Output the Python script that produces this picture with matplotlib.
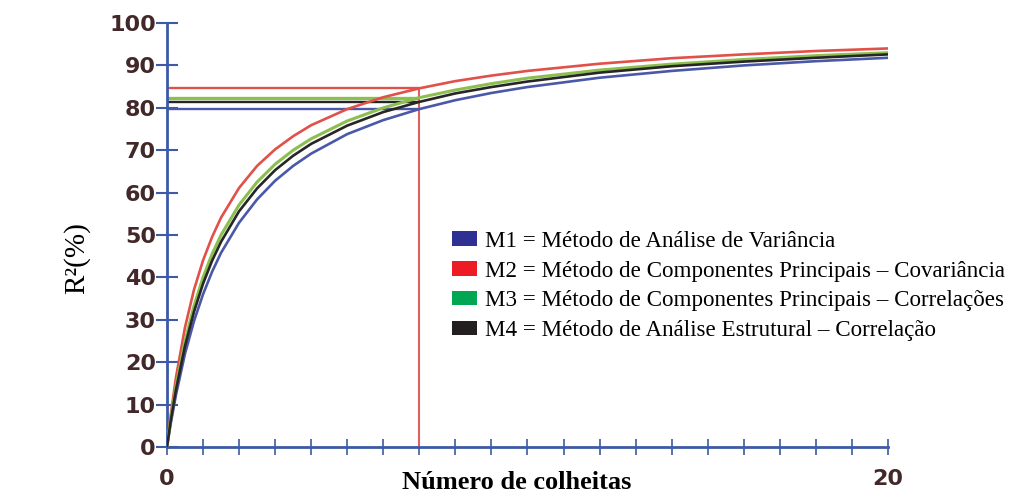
import matplotlib
matplotlib.use('Agg')
import matplotlib.pyplot as plt
from matplotlib.patches import Patch

# number of harvests
n = [0, 0.1, 0.25, 0.5, 0.75, 1, 1.25, 1.5, 2, 2.5, 3, 3.5, 4, 5, 6, 7, 8, 9, 10, 12, 14, 16, 18, 20]

# R2 (%) for each method
m1 = [0, 5.3, 12.3, 22.0, 29.7, 36.0, 41.3, 45.8, 52.9, 58.4, 62.8, 66.3, 69.2, 73.8, 77.1, 79.7,
      81.8, 83.5, 84.9, 87.1, 88.7, 90.0, 91.0, 91.8]
m2 = [0, 7.3, 16.4, 28.2, 37.1, 44.0, 49.5, 54.1, 61.1, 66.3, 70.2, 73.3, 75.9, 79.7, 82.5, 84.6,
      86.3, 87.6, 88.7, 90.4, 91.7, 92.6, 93.4, 94.0]
m3 = [0, 6.3, 14.3, 25.0, 33.3, 40.0, 45.5, 50.0, 57.1, 62.5, 66.7, 70.0, 72.7, 76.9, 80.0, 82.4,
      84.2, 85.7, 87.0, 88.9, 90.3, 91.4, 92.3, 93.0]
m4 = [0, 5.9, 13.5, 23.8, 31.9, 38.5, 43.9, 48.4, 55.6, 61.0, 65.3, 68.7, 71.5, 75.8, 79.0, 81.4,
      83.4, 84.9, 86.2, 88.3, 89.8, 90.9, 91.8, 92.6]

# reference lines at 7 harvests
ref_n = 7
ref_values = [79.7, 84.6, 82.4, 81.4]

labels = [
    'M1 = Método de Análise de Variância',
    'M2 = Método de Componentes Principais – Covariância',
    'M3 = Método de Componentes Principais – Correlações',
    'M4 = Método de Análise Estrutural – Correlação',
]
curve_colors = ['#4a58a8', '#e2504a', '#8cbf50', '#262626']
legend_colors = ['#2e3192', '#ed1c24', '#00a651', '#231f20']

fig = plt.figure(figsize=(10.1, 4.94), dpi=100)
ax = fig.add_axes([0.1653, 0.0951, 0.7139, 0.8583])

# horizontal guides from the y axis to n = 7
for val, col in zip(ref_values, curve_colors):
    ax.plot([0, ref_n], [val, val], color=col, lw=2.4 if col == '#8cbf50' else 1.7,
            solid_capstyle='butt', zorder=2)
ax.plot([ref_n, ref_n], [0, max(ref_values)], color='#e06060', lw=1.5, zorder=2)

for ys, col in zip([m1, m2, m3, m4], curve_colors):
    ax.plot(n, ys, color=col, lw=2.2 if col == '#8cbf50' else 1.9, zorder=3)

ax.set_xlim(0, 20)
ax.set_ylim(0, 100)

spine_col = '#3c5aa6'
for side in ['top', 'right']:
    ax.spines[side].set_visible(False)
for side in ['left', 'bottom']:
    ax.spines[side].set_color(spine_col)
    ax.spines[side].set_linewidth(2)

ax.set_xticks(range(0, 21))
ax.set_xticklabels(['0'] + [''] * 19 + ['20'])
ax.set_yticks(range(0, 101, 10))
ax.tick_params(axis='y', direction='inout', length=16, width=1.5, color=spine_col,
               pad=0, labelsize=16, labelcolor='#43282a')
ax.tick_params(axis='x', direction='inout', length=12, width=1.2, color=spine_col,
               pad=10, labelsize=16, labelcolor='#43282a')
for lab in ax.get_xticklabels() + ax.get_yticklabels():
    lab.set_fontweight('bold')
    lab.set_family('DejaVu Sans')

ax.text(0.485, -0.083, 'Número de colheitas', transform=ax.transAxes, ha='center', va='center',
        family='Liberation Serif', fontweight='bold', fontsize=19)
ax.text(-0.125, 0.446, 'R²(%)', transform=ax.transAxes, ha='center', va='center',
        rotation=90, family='Liberation Serif', fontsize=21)

handles = [Patch(facecolor=c, edgecolor='none') for c in legend_colors]
ax.legend(handles, labels, loc='upper left', bbox_to_anchor=(0.395, 0.51), frameon=False,
          prop={'family': 'Liberation Serif', 'size': 16.6}, handlelength=1.1, handleheight=0.6,
          handletextpad=0.35, labelspacing=0.38, borderpad=0, borderaxespad=0)

fig.savefig('out.png', dpi=100, facecolor='white')
